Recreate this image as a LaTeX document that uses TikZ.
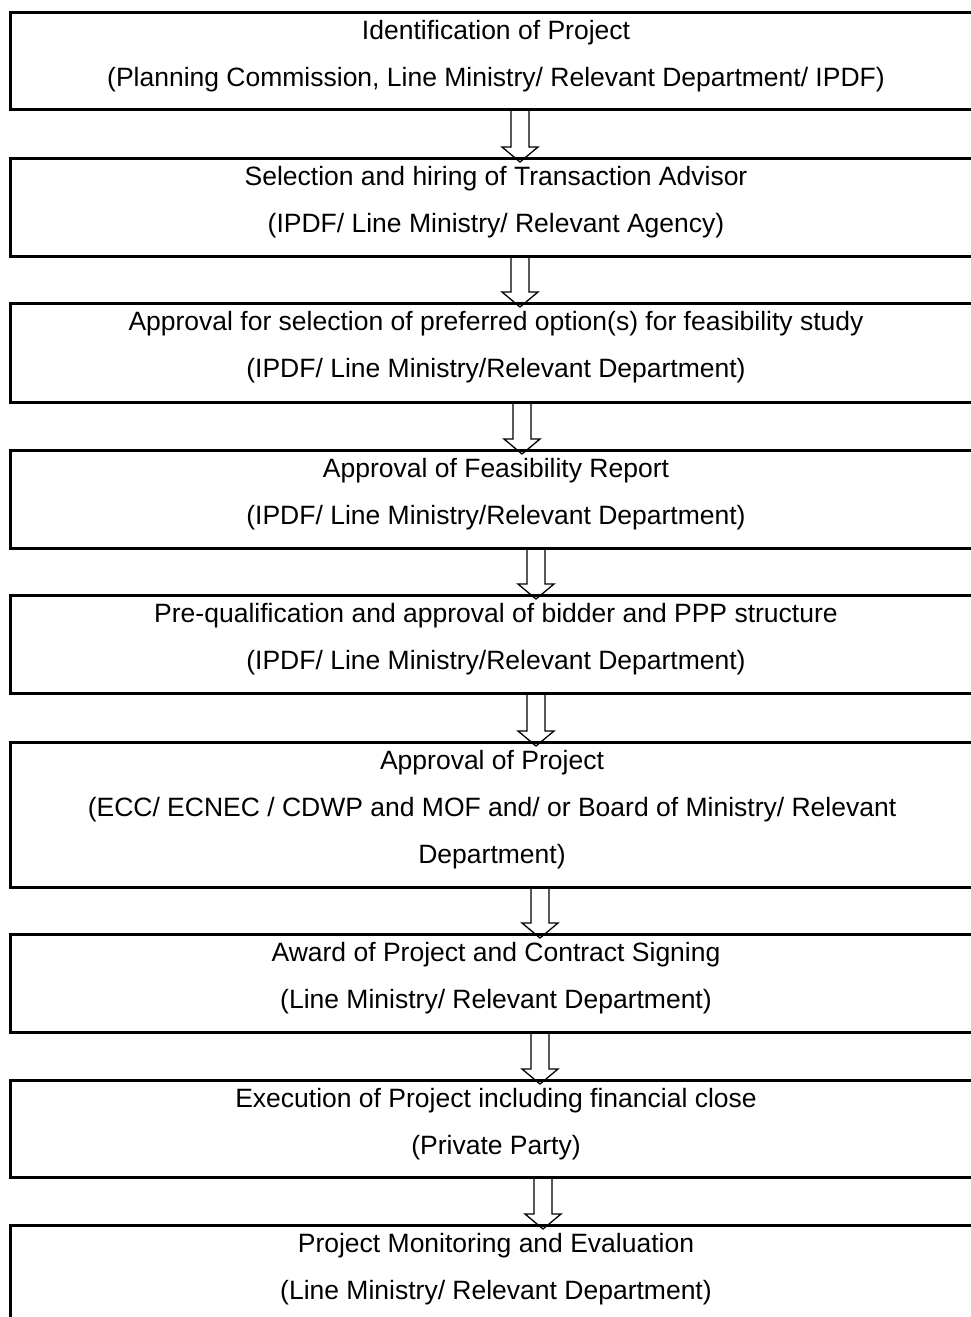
\documentclass[tikz,border=0pt]{standalone}
\usepackage{fontspec}
\setmainfont{Liberation Sans}
\usetikzlibrary{calc,backgrounds}

% hollow block arrow from the bottom of one box into the top of the next
% #1 upper box, #2 lower box, #3 horizontal centre of the arrow (pt)
\newcommand\flowarrow[3]{%
  \path[flowarrow] let \p1=(#1.south), \p2=(#2.north) in
    (#3pt-9pt,\y1) -- (#3pt-9pt,\y2+10pt) -- (#3pt-18pt,\y2+10pt)
    -- (#3pt,\y2-5pt) -- (#3pt+18pt,\y2+10pt) -- (#3pt+9pt,\y2+10pt)
    -- (#3pt+9pt,\y1);}

\begin{document}
\begin{tikzpicture}[x=1pt,y=-1pt,
  stepbox/.style={draw, line width=2.6pt, rectangle, inner sep=0pt,
    anchor=north west, minimum width=976pt},
  steptext/.style={anchor=base, align=center, inner sep=0pt,
    font=\fontsize{26.5}{47}\selectfont},
  flowarrow/.style={draw, line width=1.3pt, fill=white, line join=miter}
]
\useasboundingbox (0,0) rectangle (971,1317);
\clip (0,0) rectangle (971,1317);

% step boxes
\node[stepbox, minimum height=97pt]  (b1) at (9,11)   {};
\node[stepbox, minimum height=98pt]  (b2) at (9,157)  {};
\node[stepbox, minimum height=99pt]  (b3) at (9,302)  {};
\node[stepbox, minimum height=98pt]  (b4) at (9,449)  {};
\node[stepbox, minimum height=98pt]  (b5) at (9,594)  {};
\node[stepbox, minimum height=145pt] (b6) at (9,741)  {};
\node[stepbox, minimum height=98pt]  (b7) at (9,933)  {};
\node[stepbox, minimum height=97pt]  (b8) at (9,1079) {};
\node[stepbox, minimum height=140pt] (b9) at (9,1224) {};

% step texts (anchored on the baseline of their last line)
\node[steptext] (t1) at ($(b1.north west)+(487,75)$)
  {Identification of Project\\(Planning Commission, Line Ministry/ Relevant Department/ IPDF)};
\node[steptext] (t2) at ($(b2.north west)+(487,75)$)
  {Selection and hiring of Transaction Advisor\\(IPDF/ Line Ministry/ Relevant Agency)};
\node[steptext] (t3) at ($(b3.north west)+(487,75)$)
  {Approval for selection of preferred option(s) for feasibility study\\(IPDF/ Line Ministry/Relevant Department)};
\node[steptext] (t4) at ($(b4.north west)+(487,75)$)
  {Approval of Feasibility Report\\(IPDF/ Line Ministry/Relevant Department)};
\node[steptext] (t5) at ($(b5.north west)+(487,75)$)
  {Pre-qualification and approval of bidder and PPP structure\\(IPDF/ Line Ministry/Relevant Department)};
\node[steptext] (t6) at ($(b6.north west)+(483,122)$)
  {Approval of Project\\(ECC/ ECNEC / CDWP and MOF and/ or Board of Ministry/ Relevant\\Department)};
\node[steptext] (t7) at ($(b7.north west)+(487,75)$)
  {Award of Project and Contract Signing\\(Line Ministry/ Relevant Department)};
\node[steptext] (t8) at ($(b8.north west)+(487,75)$)
  {Execution of Project including financial close\\(Private Party)};
\node[steptext] (t9) at ($(b9.north west)+(487,75)$)
  {Project Monitoring and Evaluation\\(Line Ministry/ Relevant Department)};

% arrows between consecutive steps, kept under the box outlines
\begin{scope}[on background layer]
  \flowarrow{b1}{b2}{520}
  \flowarrow{b2}{b3}{520}
  \flowarrow{b3}{b4}{522}
  \flowarrow{b4}{b5}{536}
  \flowarrow{b5}{b6}{536}
  \flowarrow{b6}{b7}{540}
  \flowarrow{b7}{b8}{540}
  \flowarrow{b8}{b9}{543}
\end{scope}
\end{tikzpicture}
\end{document}
